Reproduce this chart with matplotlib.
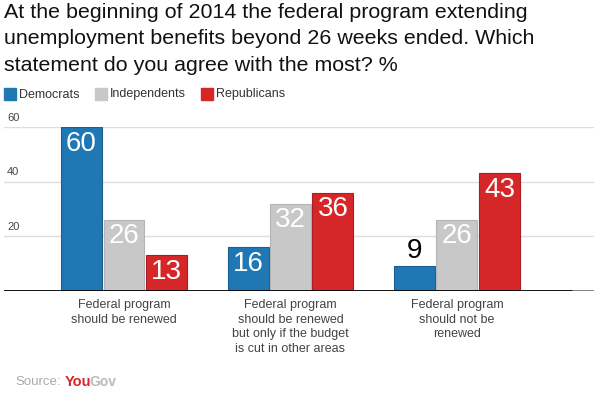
import numpy as np
import matplotlib
matplotlib.use("Agg")
import matplotlib.pyplot as plt

plt.rcParams['font.family'] = ['Liberation Sans', 'DejaVu Sans']

# data
categories = ["Federal program\nshould be renewed",
              "Federal program\nshould be renewed\nbut only if the budget\nis cut in other areas",
              "Federal program\nshould not be\nrenewed"]
series = ["Democrats", "Independents", "Republicans"]
democrats = [60, 16, 9]
independents = [26, 32, 26]
republicans = [13, 36, 43]
yticks = [20, 40, 60]
title_lines = ["At the beginning of 2014 the federal program extending",
               "unemployment benefits beyond 26 weeks ended. Which",
               "statement do you agree with the most? %"]

colors = ["#1f77b4", "#c8c8c8", "#d62728"]
edges = ["#1a5f92", "#b5b5b5", "#a81e22"]

W, H = 598, 398
fig = plt.figure(figsize=(W / 100, H / 100), dpi=100)
ax = fig.add_axes([4 / W, (H - 291) / H, (594 - 4) / W, (291 - 127) / H])

x = np.arange(len(categories))
bw = 0.246
offsets = [-0.255, 0, 0.255]
values = [democrats, independents, republicans]

for vals, off, c, ec in zip(values, offsets, colors, edges):
    ax.bar(x + off, vals, bw, color=c, edgecolor=ec, linewidth=0.8, zorder=3)
    for xi, v in zip(x + off, vals):
        if v >= 12:
            ax.text(xi, v - 1.3, str(v), ha='center', va='top', color='white',
                    fontsize=20, zorder=4)
        else:
            ax.text(xi, v + 1.0, str(v), ha='center', va='bottom', color='black',
                    fontsize=20, zorder=4)

ax.set_xlim(-0.7207, 2.823)
ax.set_ylim(0, 60)
for t in yticks:
    ax.axhline(t, color='#dddddd', linewidth=1, zorder=1)
    ax.text(0.005, t + 1.6, str(t), transform=ax.get_yaxis_transform(),
            ha='left', va='bottom', fontsize=8, color='#444444')

# baseline: black, fading to grey at the right end
ax.axhline(0, xmin=0, xmax=(573 - 4) / 590, color='black', linewidth=1.3, zorder=5)
ax.axhline(0, xmin=(573 - 4) / 590, xmax=1, color='#777777', linewidth=1.3, zorder=5)

for s in ['top', 'right', 'left', 'bottom']:
    ax.spines[s].set_visible(False)
ax.set_yticks([])
ax.set_xticks(x)
ax.set_xticklabels(categories, fontsize=9, color='#444444', linespacing=1.28)
ax.tick_params(axis='x', length=0, pad=6)

# title
for i, line in enumerate(title_lines):
    fig.text(4 / W, 1 - (18 + 26.5 * i) / H, line, ha='left', va='baseline',
             fontsize=15.4, color='#111111')

# legend
lx = [4, 95, 201]
for px, name, c in zip(lx, series, colors):
    fig.patches.append(plt.Rectangle((px / W, 1 - 100 / H), 12 / W, 12 / H,
                                     transform=fig.transFigure, color=c))
    fig.text((px + 15) / W, 1 - 94.5 / H, name, ha='left', va='center',
             fontsize=9, color='#333333')

# source
fig.text(15 / W, 1 - 382 / H, "Source:", ha='left', va='center', fontsize=9.5,
         color='#aaaaaa')
fig.text(65 / W, 1 - 382 / H, "You", ha='left', va='center', fontsize=10.5,
         color='#d62728', fontweight='bold')
fig.text(89 / W, 1 - 382 / H, "Gov", ha='left', va='center', fontsize=10,
         color='#bbbbbb', fontweight='bold')

fig.savefig("out.png", dpi=100)
